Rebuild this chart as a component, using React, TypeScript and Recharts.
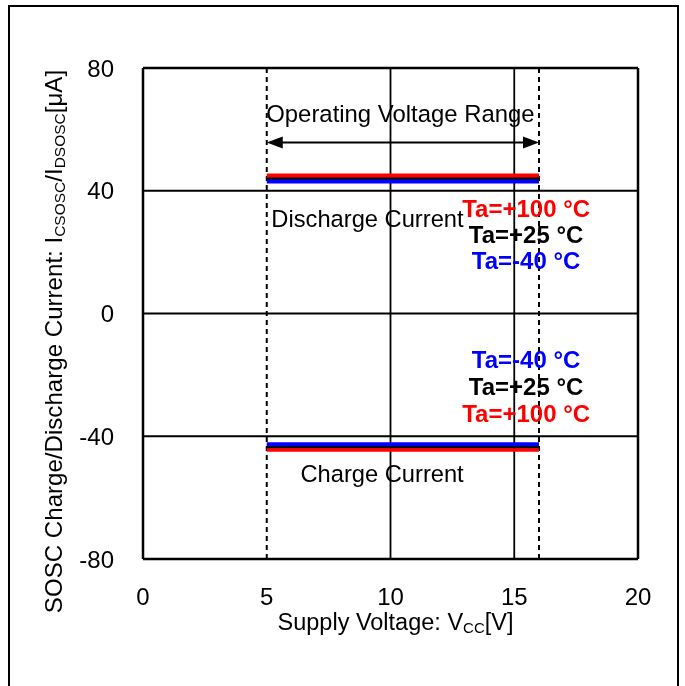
import React from 'react';
import { LineChart, Line, XAxis, YAxis, ReferenceLine, ReferenceArea, ReferenceDot } from 'recharts';

const FONT = '"Liberation Sans", Arial, Helvetica, sans-serif';

// Supply voltage points (V)
const voltages = [5, 10, 16];
// Discharge current (µA)
const dischargeRed = [45.0, 45.0, 45.0]; // Ta=+100 °C
const dischargeBlack = [44.0, 44.0, 44.0]; // Ta=+25 °C
const dischargeBlue = [43.0, 43.0, 43.0]; // Ta=-40 °C
// Charge current (µA)
const chargeBlue = [-42.6, -42.6, -42.6]; // Ta=-40 °C
const chargeBlack = [-43.6, -43.6, -43.6]; // Ta=+25 °C
const chargeRed = [-44.5, -44.5, -44.5]; // Ta=+100 °C

const xTicks = [0, 5, 10, 15, 20];
const yTicks = [-80, -40, 0, 40, 80];
const xGrid = [10, 15];
const yGrid = [40, 0, -40];
const rangeLimits = [5, 16];

const upperTempLabels = ['Ta=+100 °C', 'Ta=+25 °C', 'Ta=-40 °C'];
const lowerTempLabels = ['Ta=-40 °C', 'Ta=+25 °C', 'Ta=+100 °C'];

const RED = '#ff0000';
const BLUE = '#0000ff';
const BLACK = '#000000';

const tableData = voltages.map((v, i) => ({
  v,
  dRed: dischargeRed[i],
  dBlack: dischargeBlack[i],
  dBlue: dischargeBlue[i],
  cRed: chargeRed[i],
  cBlack: chargeBlack[i],
  cBlue: chargeBlue[i],
}));

const textShape = (text: string, color: string, bold: boolean, size: number) => (p: any) => (
  <text
    x={p.cx}
    y={p.cy}
    textAnchor="middle"
    fontFamily={FONT}
    fontSize={size}
    fontWeight={bold ? 'bold' : 'normal'}
    fill={color}
  >
    {text}
  </text>
);

const ArrowShape = (p: any) => {
  const { x1, y1, x2, y2 } = p;
  const L = 16;
  const H = 6;
  return (
    <g>
      <line x1={x1 + L - 2} y1={y1} x2={x2 - L + 2} y2={y2} stroke={BLACK} strokeWidth={2} />
      <polygon points={`${x1},${y1} ${x1 + L},${y1 - H} ${x1 + L},${y1 + H}`} fill={BLACK} />
      <polygon points={`${x2},${y2} ${x2 - L},${y2 - H} ${x2 - L},${y2 + H}`} fill={BLACK} />
    </g>
  );
};

const YLabel = (p: any) => {
  const vb = p.viewBox || { x: 83, y: 68, width: 60, height: 491 };
  const cx = vb.x - 21;
  const cy = vb.y + vb.height / 2 + 28;
  return (
    <text
      x={cx}
      y={cy}
      transform={`rotate(-90 ${cx} ${cy})`}
      textAnchor="middle"
      fontFamily={FONT}
      fontSize={24.1}
      fill={BLACK}
    >
      SOSC Charge/Discharge Current: I
      <tspan fontSize={15.5} dy={3}>CSOSC</tspan>
      <tspan dy={-3}>/I</tspan>
      <tspan fontSize={15.5} dy={3}>DSOSC</tspan>
      <tspan dy={-3}>[μA]</tspan>
    </text>
  );
};

const XLabel = (p: any) => {
  const vb = p.viewBox || { x: 143, y: 559, width: 495, height: 60 };
  const cx = vb.x + vb.width / 2 + 5;
  const cy = vb.y + 71;
  return (
    <text x={cx} y={cy} textAnchor="middle" fontFamily={FONT} fontSize={23.5} fill={BLACK}>
      Supply Voltage: V
      <tspan fontSize={15} dy={3}>CC</tspan>
      <tspan dy={-3}>[V]</tspan>
    </text>
  );
};

export default function App() {
  const tickStyle = { fontFamily: FONT, fontSize: 24, fill: BLACK };
  return (
    <div>
      <div
        style={{
          position: 'fixed',
          left: 8,
          top: 5,
          width: 671,
          height: 720,
          border: '2px solid #000',
          boxSizing: 'border-box',
        }}
      />
      <div style={{ position: 'fixed', left: 0, top: 0, width: 685, height: 686 }}>
        <LineChart
          width={685}
          height={686}
          data={tableData}
          margin={{ top: 68, right: 47, bottom: 67, left: 83 }}
        >
          <XAxis
            type="number"
            dataKey="v"
            domain={[0, 20]}
            ticks={xTicks}
            interval={0}
            height={60}
            tickLine={false}
            tickSize={0}
            tickMargin={29}
            tick={tickStyle}
            axisLine={{ stroke: BLACK, strokeWidth: 2.5 }}
            label={XLabel}
          />
          <YAxis
            type="number"
            domain={[-80, 80]}
            ticks={yTicks}
            interval={0}
            width={60}
            tickLine={false}
            tickSize={0}
            tickMargin={29}
            tick={tickStyle}
            axisLine={{ stroke: BLACK, strokeWidth: 2.5 }}
            label={YLabel}
          />

          {xGrid.map((x) => (
            <ReferenceLine key={`gx${x}`} x={x} stroke={BLACK} strokeWidth={1.8} />
          ))}
          {yGrid.map((y) => (
            <ReferenceLine key={`gy${y}`} y={y} stroke={BLACK} strokeWidth={1.8} />
          ))}
          {rangeLimits.map((x) => (
            <ReferenceLine key={`r${x}`} x={x} stroke={BLACK} strokeWidth={2} strokeDasharray="5 4" />
          ))}
          <ReferenceLine y={80} stroke={BLACK} strokeWidth={2.5} />
          <ReferenceLine x={20} stroke={BLACK} strokeWidth={2.5} />

          <ReferenceArea x1={4.84} x2={16.13} y1={56.6} y2={70.6} fill="#ffffff" fillOpacity={1} stroke="none" />
          <ReferenceArea x1={4.92} x2={13.06} y1={20.8} y2={36.4} fill="#ffffff" fillOpacity={1} stroke="none" />
          <ReferenceArea x1={6.21} x2={13.15} y1={-62.1} y2={-46.8} fill="#ffffff" fillOpacity={1} stroke="none" />

          <ReferenceDot x={10.4} y={62.44} r={0} shape={textShape('Operating Voltage Range', BLACK, false, 23.9)} />
          <ReferenceDot x={9.07} y={28.3} r={0} shape={textShape('Discharge Current', BLACK, false, 23.7)} />
          <ReferenceDot x={9.66} y={-54.96} r={0} shape={textShape('Charge Current', BLACK, false, 23.7)} />

          <ReferenceLine
            segment={[
              { x: 5, y: 55.7 },
              { x: 16, y: 55.7 },
            ]}
            stroke={BLACK}
            shape={ArrowShape}
          />

          <Line type="linear" dataKey="dBlack" stroke={BLACK} strokeWidth={3} dot={false} isAnimationActive={false} />
          <Line type="linear" dataKey="dRed" stroke={RED} strokeWidth={4} dot={false} isAnimationActive={false} />
          <Line type="linear" dataKey="dBlue" stroke={BLUE} strokeWidth={4} dot={false} isAnimationActive={false} />
          <Line type="linear" dataKey="cBlack" stroke={BLACK} strokeWidth={3} dot={false} isAnimationActive={false} />
          <Line type="linear" dataKey="cRed" stroke={RED} strokeWidth={3.5} dot={false} isAnimationActive={false} />
          <Line type="linear" dataKey="cBlue" stroke={BLUE} strokeWidth={4} dot={false} isAnimationActive={false} />

          <ReferenceDot x={15.48} y={31.5} r={0} shape={textShape(upperTempLabels[0], RED, true, 24)} />
          <ReferenceDot x={15.48} y={23.1} r={0} shape={textShape(upperTempLabels[1], BLACK, true, 24)} />
          <ReferenceDot x={15.48} y={14.6} r={0} shape={textShape(upperTempLabels[2], BLUE, true, 24)} />
          <ReferenceDot x={15.48} y={-17.6} r={0} shape={textShape(lowerTempLabels[0], BLUE, true, 24)} />
          <ReferenceDot x={15.48} y={-26.7} r={0} shape={textShape(lowerTempLabels[1], BLACK, true, 24)} />
          <ReferenceDot x={15.48} y={-35.4} r={0} shape={textShape(lowerTempLabels[2], RED, true, 24)} />
        </LineChart>
      </div>
    </div>
  );
}
